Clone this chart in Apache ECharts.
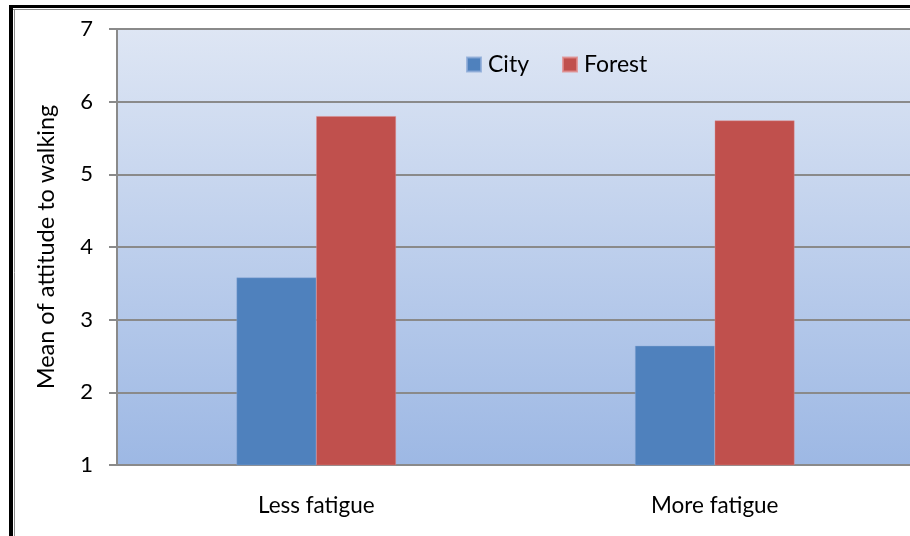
<!DOCTYPE html>
<html>
<head>
<meta charset="utf-8">
<style>
  html, body { margin: 0; padding: 0; background: #ffffff; overflow: hidden; }
  /* the plot runs a few pixels past the right edge of the window */
  #chart { width: 918px; height: 536px; }
</style>
<script src="https://cdn.jsdelivr.net/npm/echarts@6/dist/echarts.min.js"></script>
</head>
<body>
<div id="chart"></div>
<script>
// Mean attitude to walking, by fatigue level and environment
const categories = ['Less fatigue', 'More fatigue'];
const cityValues = [3.58, 2.64];
const forestValues = [5.8, 5.74];
const yTicks = [1, 2, 3, 4, 5, 6, 7];

const FONT = 'Lato, "Open Sans", sans-serif';

const chart = echarts.init(document.getElementById('chart'), null, { renderer: 'canvas' });

chart.setOption({
  animation: false,
  backgroundColor: '#ffffff',
  textStyle: { fontFamily: FONT, color: '#000000' },
  graphic: [
    // outer frame: heavy black rule with a thin grey rule inside
    { type: 'line', shape: { x1: 9, y1: 6.5, x2: 918, y2: 6.5 }, style: { stroke: '#000000', lineWidth: 3 }, z: 100 },
    { type: 'line', shape: { x1: 11, y1: 5, x2: 11, y2: 536 }, style: { stroke: '#000000', lineWidth: 4 }, z: 100 },
    { type: 'line', shape: { x1: 13, y1: 9.5, x2: 918, y2: 9.5 }, style: { stroke: '#8c8c8c', lineWidth: 1 }, z: 100 },
    { type: 'line', shape: { x1: 14.5, y1: 9, x2: 14.5, y2: 536 }, style: { stroke: '#8c8c8c', lineWidth: 1 }, z: 100 }
  ],
  legend: {
    data: ['City', 'Forest'],
    left: 466,
    top: 53,
    padding: 0,
    icon: 'rect',
    itemWidth: 14,
    itemHeight: 14,
    itemGap: 33,
    textStyle: { fontFamily: FONT, fontSize: 23, color: '#000000', padding: [0, 0, 0, 2] }
  },
  grid: {
    left: 117,
    top: 29,
    right: 4,
    bottom: 71,
    show: true,
    borderWidth: 0,
    backgroundColor: {
      type: 'linear', x: 0, y: 0, x2: 0, y2: 1,
      colorStops: [
        { offset: 0, color: '#dee6f4' },
        { offset: 1, color: '#9db8e4' }
      ]
    }
  },
  xAxis: {
    type: 'category',
    data: categories,
    axisLine: { show: true, lineStyle: { color: '#8a8a8a', width: 2 } },
    axisTick: { show: false },
    axisLabel: { fontFamily: FONT, fontSize: 22.5, color: '#000000', margin: 29 },
    splitLine: { show: false }
  },
  yAxis: {
    type: 'value',
    min: yTicks[0],
    max: yTicks[yTicks.length - 1],
    interval: 1,
    name: 'Mean of attitude to walking',
    nameLocation: 'middle',
    nameGap: 59,
    nameTextStyle: { fontFamily: FONT, fontSize: 23.5, color: '#000000' },
    axisLine: { show: true, lineStyle: { color: '#8a8a8a', width: 2 } },
    axisTick: { show: true, inside: false, length: 8, lineStyle: { color: '#8a8a8a', width: 2 } },
    axisLabel: { fontFamily: FONT, fontSize: 22, color: '#000000', margin: 24 },
    splitLine: { show: true, lineStyle: { color: '#8a8a8a', width: 2 } }
  },
  series: [
    {
      name: 'City',
      type: 'bar',
      data: cityValues,
      barGap: '0%',
      barCategoryGap: '60%',
      itemStyle: { color: '#4f81bd', borderColor: 'rgba(140,170,215,0.8)', borderWidth: 0.5 }
    },
    {
      name: 'Forest',
      type: 'bar',
      data: forestValues,
      barGap: '0%',
      barCategoryGap: '60%',
      itemStyle: { color: '#c0504d', borderColor: 'rgba(225,140,140,0.8)', borderWidth: 0.5 }
    }
  ]
});
</script>
</body>
</html>
